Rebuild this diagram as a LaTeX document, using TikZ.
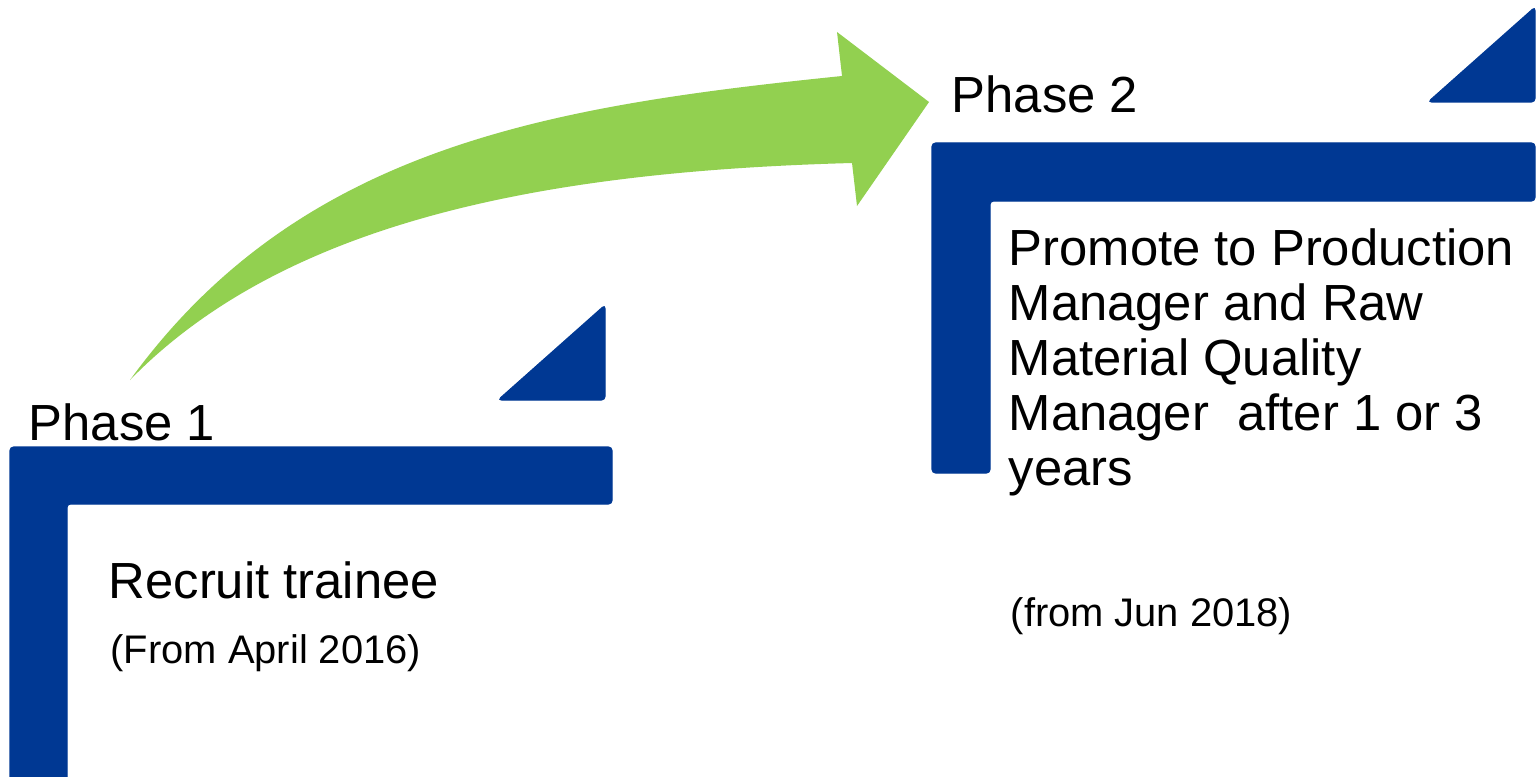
\documentclass[tikz,border=0pt]{standalone}
\usepackage{fontspec}
\setmainfont{Liberation Sans}
\usepackage{tikz}
\usetikzlibrary{positioning,calc}
\definecolor{barblue}{RGB}{0,56,147}
\definecolor{leafgreen}{RGB}{146,208,80}

\begin{document}
\begin{tikzpicture}[
	bar/.style={fill=barblue, draw=barblue, line width=0.3pt, rounded corners=1pt},
	bigtext/.style={anchor=base west, inner sep=0pt, font=\fontsize{14.45pt}{15.65pt}\selectfont},
	smalltext/.style={anchor=base west, inner sep=0pt, font=\fontsize{11.35pt}{13pt}\selectfont}
	]
	  \useasboundingbox (0,0) rectangle (15.37,7.76);
	  % phase 1 step
	  \draw[bar] (0.10,-0.2) -- (0.10,3.29) -- (6.12,3.29) -- (6.12,2.72) -- (0.67,2.72) -- (0.67,-0.2) -- cycle;
	  \draw[bar] (4.98,3.76) -- (6.05,4.71) -- (6.05,3.76) -- cycle;
	  % phase 2 step
	  \draw[bar] (9.32,3.03) -- (9.32,6.33) -- (15.35,6.33) -- (15.35,5.75) -- (9.90,5.75) -- (9.90,3.03) -- cycle;
	  \draw[bar] (14.28,6.74) -- (15.35,7.69) -- (15.35,6.74) -- cycle;
	  % arrow
	  \fill[leafgreen] (1.30,3.96) .. controls (3.0,6.3) and (5.5,6.7) .. (8.42,7.00)
	       -- (8.37,7.44) -- (9.29,6.74) -- (8.57,5.70) -- (8.52,6.13)
	       .. controls (5.6,6.05) and (2.9,5.6) .. (1.30,3.96) -- cycle;
	  % texts
	  \node[bigtext] (phaseA) at (0.28,3.36) {Phase 1};
	  \node[bigtext] (phaseB) at (9.51,6.63) {Phase 2};
	  \node[bigtext] (recruit) at (1.08,1.78) {Recruit trainee};
	  \node[smalltext] (fromA) at (1.10,1.13) {(From April 2016)};
	  \node[bigtext, anchor=north west, align=left] (promote) at (10.08,5.48)
	       {Promote to Production\\Manager and Raw\\Material Quality\\Manager\ \ after 1 or 3\\years};
	  \node[smalltext] (fromB) at (10.10,1.50) {(from Jun 2018)};
\end{tikzpicture}
\end{document}
